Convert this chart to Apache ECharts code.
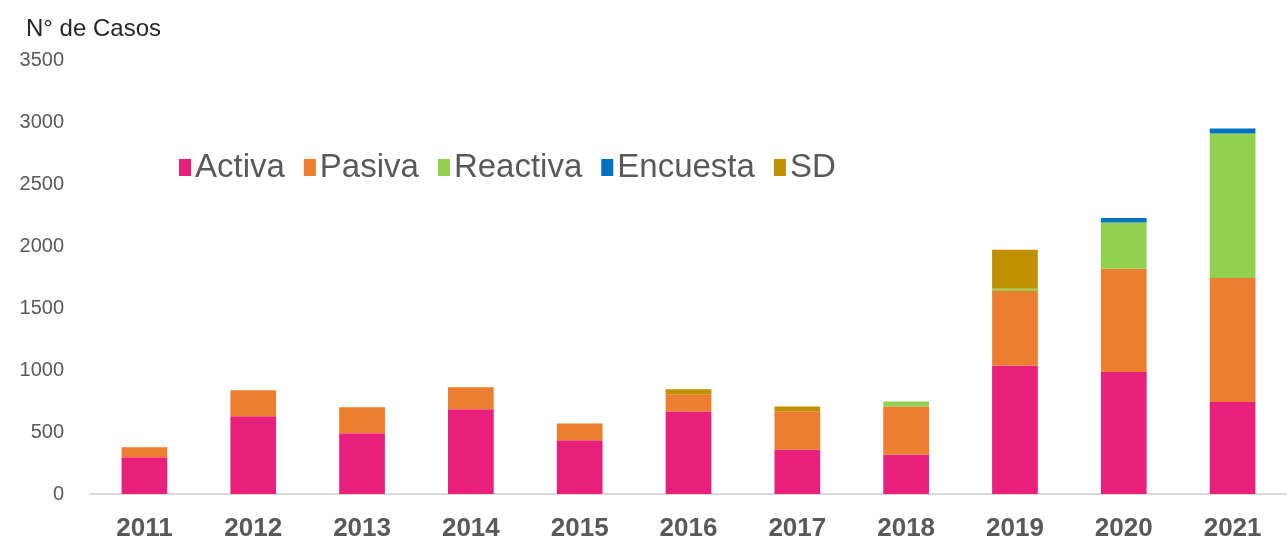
<!DOCTYPE html>
<html>
<head>
<meta charset="utf-8">
<script src="https://cdn.jsdelivr.net/npm/echarts@6/dist/echarts.min.js"></script>
<style>
  html, body { margin: 0; padding: 0; background: #ffffff; }
  #chart { width: 1287px; height: 542px; }
</style>
</head>
<body>
<div id="chart"></div>
<script>
// Casos por año según tipo de búsqueda
const years = ['2011', '2012', '2013', '2014', '2015', '2016', '2017', '2018', '2019', '2020', '2021'];
const activa   = [297, 627, 490, 683, 434, 665, 356, 316, 1037, 983, 742];
const pasiva   = [80, 209, 210, 177, 134, 139, 309, 389, 600, 834, 1000];
const reactiva = [0, 0, 0, 0, 0, 0, 0, 40, 18, 372, 1166];
const encuesta = [0, 0, 0, 0, 0, 0, 0, 0, 0, 36, 40];
const sd       = [0, 0, 0, 0, 0, 40, 40, 0, 315, 0, 0];
const yTicks = [0, 500, 1000, 1500, 2000, 2500, 3000, 3500];

const seriesDefs = [
  { name: 'Activa',   data: activa,   color: '#E8207B' },
  { name: 'Pasiva',   data: pasiva,   color: '#ED7D31' },
  { name: 'Reactiva', data: reactiva, color: '#92D050' },
  { name: 'Encuesta', data: encuesta, color: '#0070C0' },
  { name: 'SD',       data: sd,       color: '#BF9000' }
];

const chart = echarts.init(document.getElementById('chart'), null, { renderer: 'canvas' });

chart.setOption({
  animation: false,
  backgroundColor: '#ffffff',
  title: {
    text: 'N° de Casos',
    left: 21,
    top: 12,
    textStyle: { fontFamily: 'Liberation Sans, Arial, sans-serif', fontSize: 24, fontWeight: 'normal', color: '#262626' }
  },
  legend: {
    left: 174,
    top: 146,
    itemWidth: 12,
    itemHeight: 17,
    itemGap: 19,
    icon: 'rect',
    textStyle: { fontFamily: 'Liberation Sans, Arial, sans-serif', fontSize: 33, color: '#595959', padding: [0, 0, 0, -1] },
    data: seriesDefs.map(s => s.name)
  },
  grid: { left: 90, right: -9, top: 60, bottom: 47, containLabel: false },
  xAxis: {
    type: 'category',
    data: years,
    axisLine: { show: true, lineStyle: { color: '#d9d9d9', width: 2 } },
    axisTick: { show: false },
    axisLabel: {
      margin: 22,
      fontFamily: 'Liberation Sans, Arial, sans-serif',
      fontSize: 26,
      fontWeight: 'bold',
      color: '#595959'
    }
  },
  yAxis: {
    type: 'value',
    min: yTicks[0],
    max: yTicks[yTicks.length - 1],
    interval: 500,
    axisLine: { show: false },
    axisTick: { show: false },
    splitLine: { show: false },
    axisLabel: {
      margin: 26,
      fontFamily: 'Liberation Sans, Arial, sans-serif',
      fontSize: 20,
      color: '#595959',
      formatter: v => String(v)
    }
  },
  series: seriesDefs.map(s => ({
    name: s.name,
    type: 'bar',
    stack: 'total',
    barWidth: '42%',
    data: s.data,
    itemStyle: { color: s.color },
    emphasis: { disabled: true }
  }))
});
</script>
</body>
</html>
